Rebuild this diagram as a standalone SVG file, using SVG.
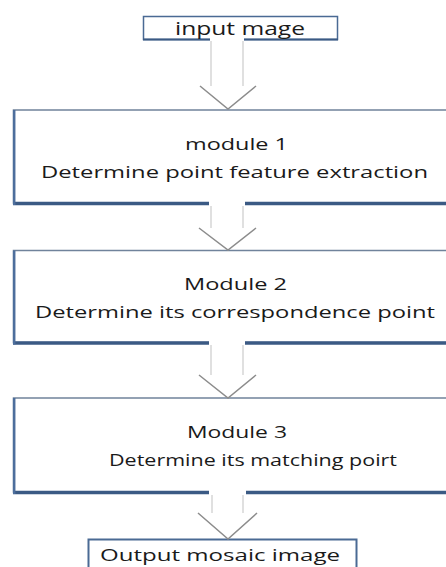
<svg xmlns="http://www.w3.org/2000/svg" width="446" height="567" viewBox="0 0 446 567">
<style>
.box{fill:#fff;stroke:#70839b;stroke-width:1.5}
.bot{stroke:#3b5a84;stroke-width:3.5;fill:none}
.lft{stroke:#4d6e9c;stroke-width:2.5;fill:none}
.t{font-family:"Open Sans","Liberation Sans",Arial,sans-serif;font-size:17px;fill:#1a1a1a;text-anchor:middle}
.fill{fill:#fff;stroke:none}
.sl{stroke:#cfcfcf;stroke-width:1.3;fill:none}
.v{stroke:#8c8c8c;stroke-width:1.5;fill:none}
</style>
<rect width="446" height="567" fill="#fff"/>
<g id="input">
<rect class="box" x="143.5" y="16.5" width="194" height="23" style="stroke:#4a6a94"/>
<line class="bot" x1="143" y1="39.5" x2="338" y2="39.5" style="stroke-width:2"/>
<text class="t" x="240" y="35" textLength="130" lengthAdjust="spacingAndGlyphs" style="font-size:18px">input mage</text>
</g>
<g id="module1">
<rect class="box" x="13.5" y="110" width="450" height="93"/>
<line class="bot" x1="13" y1="203.5" x2="446" y2="203.5"/>
<line class="lft" x1="14.2" y1="110" x2="14.2" y2="205"/>
<text class="t" x="236.5" y="150" textLength="103" lengthAdjust="spacingAndGlyphs">module 1</text>
<text class="t" x="234.5" y="178" textLength="387" lengthAdjust="spacingAndGlyphs">Determine point feature extraction</text>
</g>
<g id="module2">
<rect class="box" x="13.5" y="250.5" width="450" height="92"/>
<line class="bot" x1="13" y1="343" x2="446" y2="343"/>
<line class="lft" x1="14.2" y1="250.5" x2="14.2" y2="344.5"/>
<text class="t" x="235.5" y="290" textLength="103" lengthAdjust="spacingAndGlyphs">Module 2</text>
<text class="t" x="235" y="318" textLength="400" lengthAdjust="spacingAndGlyphs">Determine its correspondence point</text>
</g>
<g id="module3">
<rect class="box" x="13.5" y="398" width="450" height="94"/>
<line class="bot" x1="13" y1="492.5" x2="446" y2="492.5"/>
<line class="lft" x1="14.2" y1="398" x2="14.2" y2="494"/>
<text class="t" x="237" y="438" textLength="100" lengthAdjust="spacingAndGlyphs">Module 3</text>
<text class="t" x="253" y="466" textLength="288" lengthAdjust="spacingAndGlyphs">Determine its matching poirt</text>
</g>
<g id="output">
<rect class="box" x="88.5" y="539.5" width="268" height="40" style="stroke:#4a6a94;stroke-width:2"/>
<text class="t" x="220" y="561" textLength="240" lengthAdjust="spacingAndGlyphs">Output mosaic image</text>
</g>
<g id="connectors">
<polygon class="fill" points="210,38 244,38 244,86 256,86 228,108 200,86 210,86"/>
<line class="sl" x1="211" y1="41" x2="211" y2="86"/>
<line class="sl" x1="243" y1="41" x2="243" y2="86"/>
<polyline class="v" points="200,86 228,109 256,86"/>

<polygon class="fill" points="209,200 245,200 245,228 256,228 228,249 199,228 209,228"/>
<line class="sl" x1="211" y1="206" x2="211" y2="228"/>
<line class="sl" x1="243" y1="206" x2="243" y2="228"/>
<polyline class="v" points="199,228 228,250 256,228"/>

<polygon class="fill" points="209,340 245,340 245,375 256,375 228,397 199,375 209,375"/>
<line class="sl" x1="211" y1="345" x2="211" y2="375"/>
<line class="sl" x1="243" y1="345" x2="243" y2="375"/>
<polyline class="v" points="199,375 228,398 256,375"/>

<polygon class="fill" points="209,489 246,489 246,513 257,513 228,538 198,513 209,513"/>
<line class="sl" x1="212" y1="495" x2="212" y2="513"/>
<line class="sl" x1="243" y1="495" x2="243" y2="513"/>
<polyline class="v" points="198,513 228,539 257,513"/>
</g>
</svg>
